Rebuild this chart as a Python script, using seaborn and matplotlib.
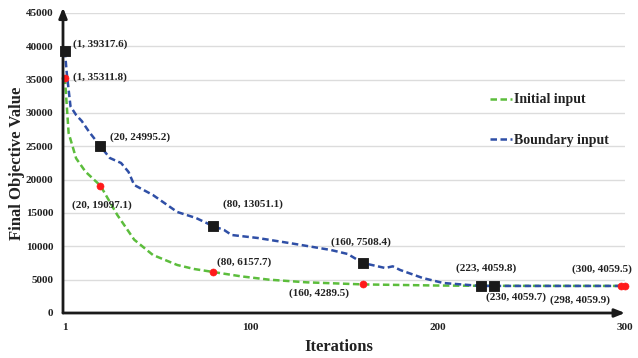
import matplotlib
matplotlib.use("Agg")
import matplotlib.pyplot as plt
import seaborn as sns
import pandas as pd

# Convergence curves (iteration, objective value)
initial_x = [1, 3, 7, 12, 20, 29, 38, 48, 61, 70, 80, 95, 110, 130, 160, 200, 223, 260, 298, 300]
initial_y = [35311.8, 27000, 23200, 21200, 19097.1, 14700, 11000, 8700, 7200, 6600, 6157.7,
             5500, 5000, 4600, 4289.5, 4120, 4080, 4065, 4059.9, 4059.5]

boundary_x = [1, 2, 4, 7, 10, 14, 20, 25, 31, 35, 38, 48, 61, 71, 80, 86, 90, 104, 124, 143,
              152, 160, 172, 176, 180, 192, 203, 223, 230, 260, 300]
boundary_y = [39317.6, 36000, 31000, 29700, 28800, 27150, 24995.2, 23250, 22500, 21150, 19200,
              17700, 15150, 14250, 13051.1, 12450, 11700, 11250, 10350, 9450, 8850, 7508.4,
              6750, 7000, 6450, 5250, 4500, 4059.8, 4059.7, 4059.6, 4059.6]

# Highlighted points
initial_pts_x = [1, 20, 80, 160, 298, 300]
initial_pts_y = [35311.8, 19097.1, 6157.7, 4289.5, 4059.9, 4059.5]
boundary_pts_x = [1, 20, 80, 160, 223, 230]
boundary_pts_y = [39317.6, 24995.2, 13051.1, 7508.4, 4059.8, 4059.7]

x_ticks = [1, 100, 200, 300]
y_ticks = list(range(0, 45001, 5000))

sns.set_theme(style="white")
plt.rcParams["font.family"] = ["Liberation Serif", "DejaVu Serif"]
plt.rcParams["font.weight"] = "bold"

green = "#5cbd3c"
blue = "#2f4fa6"
ink = "#222222"

fig = plt.figure(figsize=(6.38, 3.58), dpi=100)
ax = fig.add_axes([63 / 638, 1 - 313 / 358, (625 - 63) / 638, 300 / 358])

df_init = pd.DataFrame({"x": initial_x, "y": initial_y})
df_bnd = pd.DataFrame({"x": boundary_x, "y": boundary_y})

sns.lineplot(data=df_init, x="x", y="y", ax=ax, color=green, lw=1.8,
             dashes=False, label="Initial input", zorder=3)
sns.lineplot(data=df_bnd, x="x", y="y", ax=ax, color=blue, lw=1.8,
             dashes=False, label="Boundary input", zorder=3)
for ln in ax.lines:
    ln.set_linestyle((0, (2.6, 1.4)))

sns.scatterplot(x=boundary_pts_x, y=boundary_pts_y, ax=ax, marker="s", s=62,
                color="#1a1a1a", edgecolor="#1a1a1a", zorder=5, clip_on=False)
sns.scatterplot(x=initial_pts_x, y=initial_pts_y, ax=ax, marker="o", s=26,
                color="#ff1a1a", edgecolor="#ff1a1a", zorder=6, clip_on=False)

# Point labels with pixel offsets from each point
init_offsets = [(8, 0), (-28, -20), (4, 10), (-74, -9), (-71, -14), (-53, 17)]
bnd_offsets = [(8, 7), (10, 9), (10, 22), (-32, 21), (-25, 18), (-8, -11)]
for xs, ys, offs in [(initial_pts_x, initial_pts_y, init_offsets),
                     (boundary_pts_x, boundary_pts_y, bnd_offsets)]:
    for xv, yv, off in zip(xs, ys, offs):
        ax.annotate(f"({xv}, {yv})", xy=(xv, yv), xytext=off,
                    textcoords="offset pixels", ha="left", va="center",
                    fontsize=8, fontweight="bold", color=ink, zorder=7)

ax.set_xlim(0, 300)
ax.set_ylim(0, 45000)
ax.set_xticks(x_ticks)
ax.set_yticks(y_ticks)
ax.tick_params(axis="both", length=0, labelsize=8, colors=ink)
ax.tick_params(axis="y", pad=7)
ax.tick_params(axis="x", pad=7)
for lbl in ax.get_xticklabels() + ax.get_yticklabels():
    lbl.set_fontweight("bold")

ax.yaxis.grid(True, color="#dcdcdc", lw=1)
ax.xaxis.grid(False)
for s in ax.spines.values():
    s.set_visible(False)

# Axis arrows
ax.annotate("", xy=(1.0, 0), xytext=(0, 0), xycoords="axes fraction",
            arrowprops=dict(arrowstyle="-|>,head_length=0.5,head_width=0.2",
                            lw=2, color="#1a1a1a", shrinkA=0, shrinkB=0), zorder=8)
ax.annotate("", xy=(0, 1.018), xytext=(0, 0), xycoords="axes fraction",
            arrowprops=dict(arrowstyle="-|>,head_length=0.5,head_width=0.2",
                            lw=2, color="#1a1a1a", shrinkA=0, shrinkB=0), zorder=8)

ax.set_xlabel("Iterations", fontsize=12, fontweight="bold", color=ink)
ax.set_ylabel("Final Objective Value", fontsize=12, fontweight="bold", color=ink)
ax.xaxis.set_label_coords(0.49, -0.088)
ax.yaxis.set_label_coords(-0.068, 0.5)

leg = ax.legend(loc="upper left", bbox_to_anchor=(477 / 638, 1 - 81 / 358),
                bbox_transform=fig.transFigure, frameon=False, fontsize=10,
                handlelength=1.6, handletextpad=0.2, labelspacing=2.0)
for t in leg.get_texts():
    t.set_fontweight("bold")
    t.set_color(ink)

fig.savefig("out.png", dpi=100)
